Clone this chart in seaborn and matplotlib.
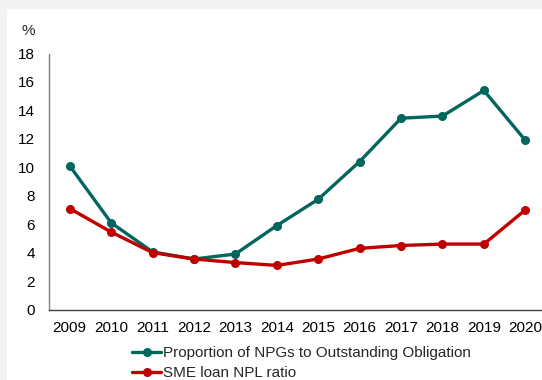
import pandas as pd
import matplotlib.pyplot as plt
import seaborn as sns
from matplotlib.patches import Rectangle

years = [2009, 2010, 2011, 2012, 2013, 2014, 2015, 2016, 2017, 2018, 2019, 2020]
npg_ratio = [10.1, 6.1, 4.05, 3.55, 3.9, 5.9, 7.75, 10.4, 13.45, 13.6, 15.4, 11.9]
sme_npl = [7.1, 5.45, 4.0, 3.55, 3.3, 3.1, 3.55, 4.3, 4.5, 4.6, 4.6, 7.0]

NPG_LABEL = 'Proportion of NPGs to Outstanding Obligation'
SME_LABEL = 'SME loan NPL ratio'

df = pd.DataFrame({
    'Year': years * 2,
    'Value': npg_ratio + sme_npl,
    'Series': [NPG_LABEL] * len(years) + [SME_LABEL] * len(years),
})

sns.set_style('white')
plt.rcParams['font.family'] = ['Liberation Sans', 'DejaVu Sans']
FS = 11

fig = plt.figure(figsize=(5.42, 3.80), dpi=100)
fig.patch.set_facecolor('#f2f2f2')
# white panel (the chart area is cropped from a larger page)
fig.patches.append(Rectangle((7 / 542, 0), 1, 1 - 9 / 380, transform=fig.transFigure,
                             facecolor='white', edgecolor='none', zorder=-5))

ax = fig.add_axes([49 / 542, 1 - 309.5 / 380, (546 - 49) / 542, (309.5 - 53.5) / 380])
ax.set_facecolor('none')
ax.set_zorder(2)

sns.lineplot(
    data=df, x='Year', y='Value', hue='Series',
    palette={NPG_LABEL: '#00665e', SME_LABEL: '#c00000'},
    marker='o', markersize=6.5, markeredgewidth=0,
    linewidth=2.4, ax=ax, legend=True,
)

ax.set_xlim(2008.5, 2020.5)
ax.set_ylim(0, 18)
ax.set_xticks(years)
ax.set_xticklabels([str(y) for y in years])
ax.set_yticks(range(0, 19, 2))
ax.tick_params(axis='both', length=0, labelsize=FS, colors='black')
ax.tick_params(axis='y', pad=10)
ax.tick_params(axis='x', pad=8)
ax.set_xlabel('')
ax.set_ylabel('')

for side in ['top', 'right']:
    ax.spines[side].set_visible(False)
ax.spines['left'].set_color('#808080')
ax.spines['left'].set_linewidth(1)
ax.spines['bottom'].set_color('#404040')
ax.spines['bottom'].set_linewidth(1)

fig.text(22 / 542, 1 - 31 / 380, '%', fontsize=FS, ha='left', va='center', zorder=3)

handles, labels = ax.get_legend_handles_labels()
ax.get_legend().remove()
leg = fig.legend(handles, labels, loc='upper left', bbox_to_anchor=(132 / 542, 1 - 346 / 380),
                 frameon=False, fontsize=FS, handlelength=1.9, handletextpad=0.15,
                 labelspacing=0.4, borderaxespad=0, borderpad=0)
leg.set_zorder(3)

plt.savefig('out.png', dpi=100, facecolor=fig.get_facecolor())
plt.close()
